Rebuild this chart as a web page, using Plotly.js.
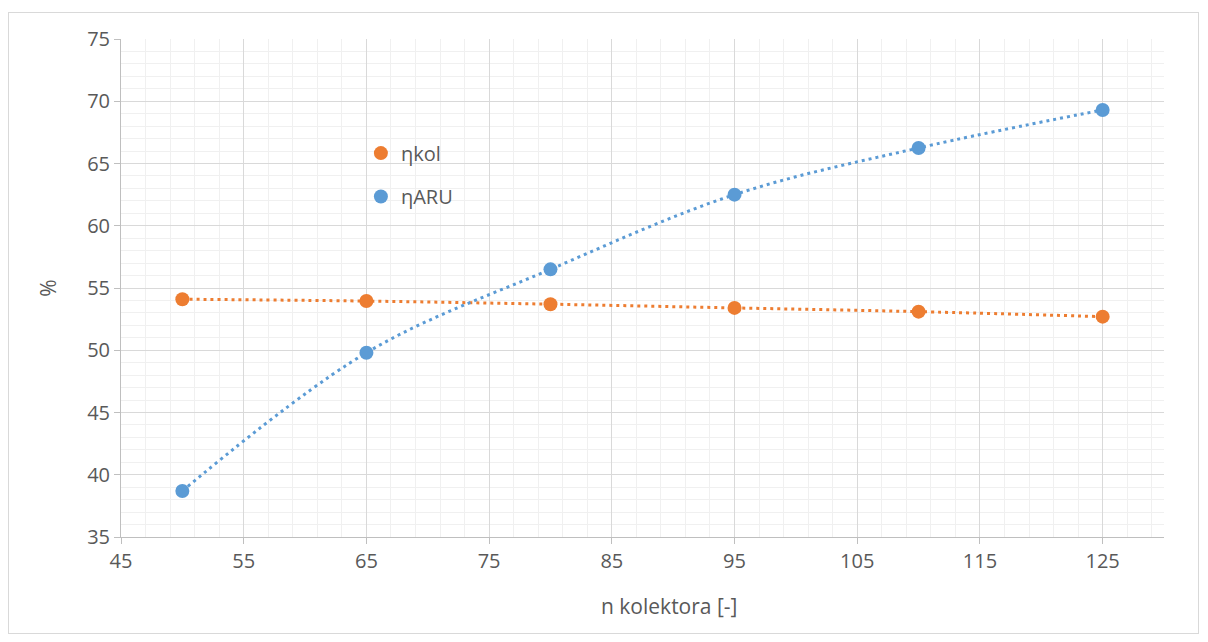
<!DOCTYPE html>
<html>
<head>
<meta charset="utf-8">
<script src="https://cdn.plot.ly/plotly-3.0.1.min.js"></script>
<style>
html,body{margin:0;padding:0;background:#fff;}
#frame{position:absolute;left:8px;top:12px;width:1191px;height:622px;border:1px solid #d9d9d9;box-sizing:border-box;}
#chart{position:absolute;left:0;top:0;width:1208px;height:642px;}
</style>
</head>
<body>
<div id="frame"></div>
<div id="chart"></div>
<script>
// data
const nKolektora = [50, 65, 80, 95, 110, 125];
const etaKol = [54.1, 53.95, 53.7, 53.4, 53.1, 52.7];
const etaARU = [38.7, 49.8, 56.5, 62.5, 66.25, 69.3];
const seriesNames = ['ηkol', 'ηARU'];
const xTitle = 'n kolektora [-]';
const yTitle = '%';

const orange = '#ED7D31';
const blue = '#5B9BD5';
const txt = '#595959';
const font = "'Open Sans', 'Noto Sans', sans-serif";

const traces = [
  {x: nKolektora, y: etaKol, mode: 'lines', line: {color: orange, width: 3, dash: '3px,4px', shape: 'spline'}, showlegend: false, hoverinfo: 'skip'},
  {x: nKolektora, y: etaARU, mode: 'lines', line: {color: blue, width: 3, dash: '3px,4px', shape: 'spline'}, showlegend: false, hoverinfo: 'skip'},
  {x: nKolektora, y: etaKol, mode: 'markers', name: seriesNames[0], marker: {color: orange, size: 14}, legend: 'legend'},
  {x: nKolektora, y: etaARU, mode: 'markers', name: seriesNames[1], marker: {color: blue, size: 14}, legend: 'legend2'}
];

const axisCommon = {
  showline: true, linecolor: '#bfbfbf', linewidth: 1,
  ticks: 'outside', ticklen: 6, tickcolor: '#bfbfbf',
  gridcolor: '#d9d9d9', gridwidth: 1, zeroline: false,
  tickfont: {family: font, size: 20, color: txt}
};

const layout = {
  width: 1208, height: 642,
  margin: {l: 121, r: 44, t: 39, b: 105},
  paper_bgcolor: 'rgba(0,0,0,0)', plot_bgcolor: 'rgba(0,0,0,0)',
  font: {family: font, color: txt},
  xaxis: Object.assign({}, axisCommon, {
    range: [45, 130], tick0: 45, dtick: 10,
    minor: {dtick: 2, tick0: 45, showgrid: true, gridcolor: '#f0f0f0', gridwidth: 1}
  }),
  yaxis: Object.assign({}, axisCommon, {
    range: [35, 75], tick0: 35, dtick: 5,
    minor: {dtick: 1, showgrid: true, gridcolor: '#f0f0f0', gridwidth: 1},
    title: {text: yTitle, font: {family: font, size: 21, color: txt}, standoff: 24}
  }),
  annotations: [{
    text: xTitle, xref: 'paper', yref: 'paper', x: 0.525, y: -0.139,
    xanchor: 'center', yanchor: 'middle', showarrow: false,
    font: {family: font, size: 21, color: txt}
  }],
  legend: {x: 0.23, y: 0.81, xanchor: 'left', yanchor: 'top', bgcolor: 'rgba(0,0,0,0)', font: {family: font, size: 20, color: txt}},
  legend2: {x: 0.23, y: 0.723, xanchor: 'left', yanchor: 'top', bgcolor: 'rgba(0,0,0,0)', font: {family: font, size: 20, color: txt}},
  showlegend: true
};

Plotly.newPlot('chart', traces, layout, {displayModeBar: false, staticPlot: true});
</script>
</body>
</html>
